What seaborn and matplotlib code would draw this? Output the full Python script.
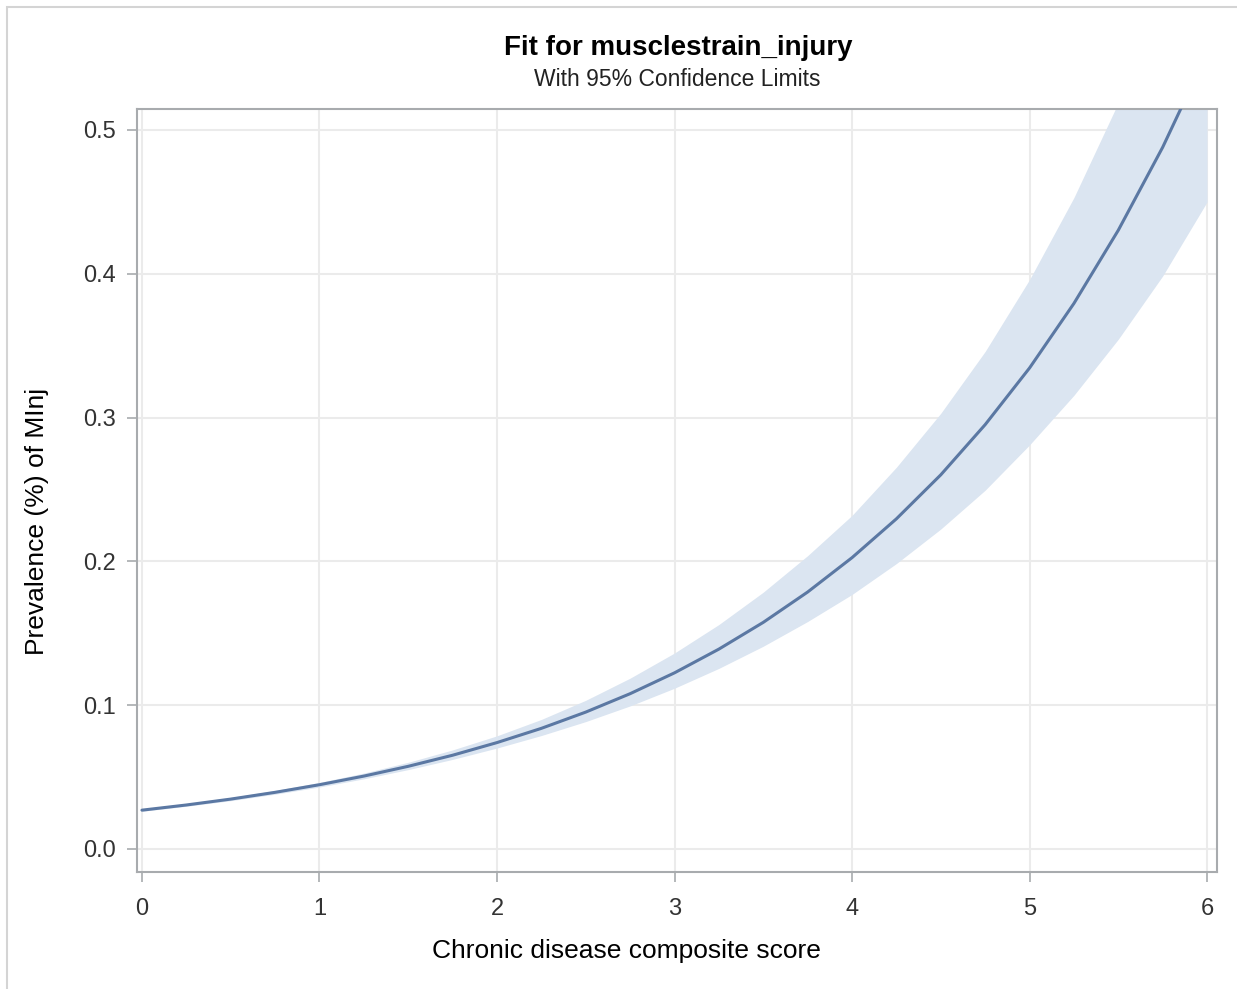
import matplotlib
matplotlib.use("Agg")
import matplotlib.pyplot as plt
import matplotlib.patches as mpatches
import pandas as pd
import seaborn as sns

# valores
score = [0, 0.25, 0.5, 0.75, 1, 1.25, 1.5, 1.75, 2, 2.25, 2.5, 2.75, 3,
         3.25, 3.5, 3.75, 4, 4.25, 4.5, 4.75, 5, 5.25, 5.5, 5.75, 6]
fit = [0.0270, 0.0306, 0.0347, 0.0394, 0.0447, 0.0507, 0.0575, 0.0652,
       0.0740, 0.0839, 0.0952, 0.1080, 0.1225, 0.1390, 0.1576, 0.1787,
       0.2026, 0.2296, 0.2602, 0.2951, 0.3345, 0.3794, 0.4303, 0.4880, 0.5535]
lower = [0.0262, 0.0297, 0.0336, 0.0381, 0.0431, 0.0488, 0.0552, 0.0623,
         0.0702, 0.0789, 0.0886, 0.0995, 0.1118, 0.1256, 0.1410, 0.1582,
         0.1770, 0.1985, 0.2225, 0.2495, 0.2810, 0.3155, 0.3545, 0.3985, 0.4500]
upper = [0.0279, 0.0316, 0.0358, 0.0407, 0.0463, 0.0528, 0.0603, 0.0689,
         0.0787, 0.0901, 0.1034, 0.1188, 0.1363, 0.1561, 0.1786, 0.2040,
         0.2320, 0.2655, 0.3030, 0.3460, 0.3960, 0.4530, 0.5190, 0.5940, 0.6800]
x_ticks = [0, 1, 2, 3, 4, 5, 6]
y_ticks = [0.0, 0.1, 0.2, 0.3, 0.4, 0.5]

df = pd.DataFrame({"score": score, "fit": fit, "lower": lower, "upper": upper})

sns.set_theme(style="white")
plt.rcParams["font.family"] = ["Liberation Sans", "DejaVu Sans"]

fig = plt.figure(figsize=(12.37, 9.89), dpi=100)
ax = fig.add_axes([137 / 1237, 1 - 872 / 989, 1080 / 1237, 763 / 989])

ax.fill_between(df["score"], df["lower"], df["upper"], color="#dbe5f1",
                linewidth=0, zorder=2)
sns.lineplot(data=df, x="score", y="fit", ax=ax, color="#5b78a3",
             linewidth=2.2, zorder=3)

ax.set_xlim(-0.028, 6.056)
ax.set_ylim(-0.016, 0.5146)
ax.set_xticks(x_ticks)
ax.set_xticklabels([str(t) for t in x_ticks])
ax.set_yticks(y_ticks)
ax.set_yticklabels([f"{t:.1f}" for t in y_ticks])
ax.grid(True, color="#ebebeb", linewidth=1.5, zorder=0)
ax.set_axisbelow(True)
for s in ax.spines.values():
    s.set_color("#a8abae")
    s.set_linewidth(1.5)
ax.tick_params(axis="both", which="major", length=7, width=1.2,
               color="#a8abae", labelsize=17, labelcolor="#333333",
               bottom=True, left=True)
ax.tick_params(axis="x", pad=12)
ax.tick_params(axis="y", pad=8)
ax.set_xlabel("")
ax.set_ylabel("")

fig.text(678 / 1237, 1 - 48 / 989, "Fit for musclestrain_injury",
         ha="center", va="center", fontsize=20, fontweight="bold", color="black")
fig.text(677 / 1237, 1 - 79 / 989, "With 95% Confidence Limits",
         ha="center", va="center", fontsize=16.5, color="#222222")
fig.text(626 / 1237, 1 - 951 / 989, "Chronic disease composite score",
         ha="center", va="center", fontsize=19, color="black")
fig.text(37 / 1237, 1 - 521 / 989, "Prevalence (%) of MInj",
         ha="center", va="center", fontsize=19, rotation=90, color="black")

# marco exterior gris claro
fig.patches.append(mpatches.Rectangle((7 / 1237, -0.01), 1.0, 1 - 7 / 989 + 0.01,
                                      transform=fig.transFigure, fill=False,
                                      edgecolor="#d4d4d4", linewidth=1.5))

fig.savefig("out.png", dpi=100)
plt.close(fig)
